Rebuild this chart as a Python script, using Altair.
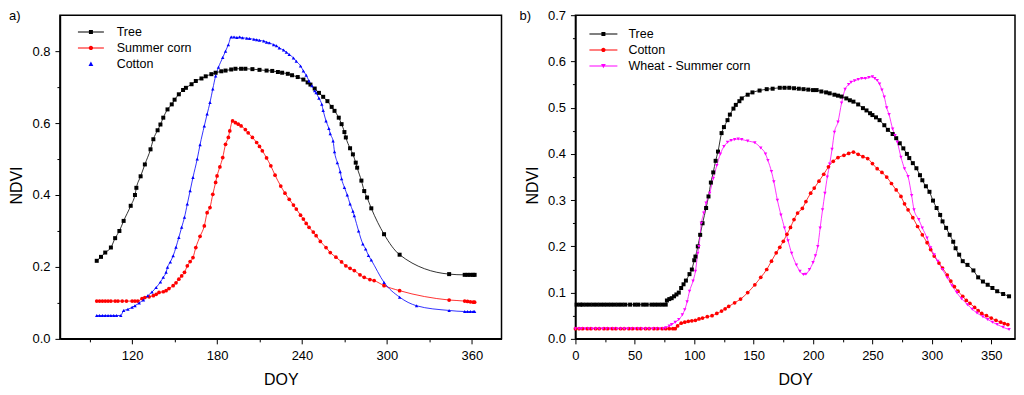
import altair as alt
import pandas as pd

FONT = "Liberation Sans"
panel_labels = ["a)", "b)"]

# ---------------- Panel a ----------------
a_series = ["Tree", "Summer corn", "Cotton"]
a_colors = ["#000000", "#ff0000", "#0000ff"]

a_tree_doy = [95, 98, 101, 105, 108, 111, 114, 119, 122, 123, 126, 129, 133, 135, 138, 140, 142, 145, 148,
              150, 153, 156, 158, 162, 165, 169, 172, 176, 179, 183, 186, 190, 193, 197, 200, 205, 210, 215,
              219, 223, 226, 230, 233, 237, 241, 244, 246, 249, 252, 255, 258, 261, 263, 266, 268, 270, 271,
              274, 276, 278, 279, 282, 284, 286, 289, 298, 309, 344, 355, 357, 359, 361, 362]
a_tree_ndvi = [.217, .228, .240, .254, .280, .300, .328, .370, .400, .420, .452, .485, .527, .555, .580, .596,
               .615, .638, .652, .665, .680, .692, .698, .708, .717, .724, .730, .736, .740, .744, .746, .749,
               .751, .751, .751, .750, .748, .746, .745, .742, .740, .737, .733, .728, .721, .713, .707, .696,
               .684, .673, .661, .645, .634, .615, .597, .575, .560, .530, .513, .490, .476, .440, .411, .393,
               .363, .291, .234, .180, .178, .178, .178, .178, .178]

a_corn_doy = [95, 97, 99, 101, 103, 105, 108, 110, 113, 116, 120, 122, 124, 127, 129, 132, 135, 137, 139, 142,
              144, 146, 149, 151, 153, 155, 157, 159, 161, 163, 165, 168, 171, 173, 175, 177, 179, 180, 182,
              184, 186, 188, 189, 191, 193, 195, 197, 200, 202, 205, 208, 210, 212, 215, 218, 221, 225, 228,
              231, 234, 236, 239, 241, 243, 245, 248, 250, 253, 257, 260, 264, 268, 271, 274, 277, 281, 284,
              288, 291, 298, 309, 344, 355, 357, 359, 361, 362]
a_corn_ndvi = [.105, .105, .105, .105, .105, .105, .105, .105, .105, .105, .105, .105, .105, .112, .115, .117,
               .120, .124, .129, .131, .134, .140, .148, .156, .166, .175, .185, .203, .215, .226, .254, .285,
               .314, .351, .365, .402, .435, .453, .478, .504, .541, .560, .578, .606, .601, .597, .592, .582,
               .573, .560, .546, .535, .523, .503, .481, .455, .425, .405, .388, .372, .361, .344, .333, .321,
               .310, .297, .287, .271, .254, .240, .227, .214, .203, .196, .190, .178, .171, .165, .162, .148,
               .134, .108, .105, .104, .103, .102, .102]

a_cotton_doy = [95, 97, 99, 101, 103, 105, 107, 109, 112, 114, 117, 120, 122, 125, 128, 131, 134, 137, 140, 142,
                144, 145, 147, 149, 151, 153, 155, 157, 159, 161, 163, 166, 168, 171, 173, 175, 177, 179, 181,
                184, 186, 188, 190, 192, 194, 196, 198, 201, 203, 206, 208, 210, 213, 215, 217, 220, 222, 224,
                227, 229, 231, 234, 236, 239, 241, 243, 245, 247, 249, 250, 252, 254, 255, 257, 259, 260, 262,
                263, 265, 267, 268, 270, 272, 274, 276, 277, 280, 283, 285, 287, 289, 298, 309, 321, 344, 355,
                357, 359, 361, 362]
a_cotton_ndvi = [.065, .065, .065, .065, .065, .065, .065, .065, .065, .079, .082, .088, .092, .100, .108, .120,
                 .130, .143, .158, .171, .185, .199, .214, .231, .255, .282, .310, .338, .375, .412, .449, .500,
                 .540, .592, .625, .657, .695, .731, .755, .782, .800, .818, .839, .839, .838, .839, .837, .836,
                 .835, .833, .832, .830, .828, .825, .823, .818, .815, .809, .803, .797, .791, .781, .772, .759,
                 .745, .733, .717, .704, .690, .684, .669, .652, .635, .606, .585, .570, .550, .520, .490, .465,
                 .445, .421, .400, .375, .355, .342, .300, .264, .250, .232, .219, .157, .116, .092, .079, .076,
                 .076, .076, .076, .076]

# ---------------- Panel b ----------------
b_series = ["Tree", "Cotton", "Wheat - Summer corn"]
b_colors = ["#000000", "#ff0000", "#ff00ff"]

b_tree_doy = [1, 4, 6, 9, 12, 15, 18, 21, 24, 27, 30, 33, 36, 39, 42, 46, 50, 53, 57, 60, 64, 67, 70, 73, 76,
              77, 79, 81, 83, 85, 87, 89, 91, 93, 96, 98, 100, 101, 103, 105, 107, 110, 112, 114, 116, 118, 120,
              123, 125, 128, 130, 133, 135, 138, 140, 145, 149, 155, 161, 166, 172, 176, 180, 184, 188, 192, 196,
              200, 203, 207, 211, 214, 218, 221, 224, 228, 231, 234, 238, 242, 245, 248, 250, 253, 256, 260, 263,
              267, 270, 273, 276, 279, 281, 284, 287, 290, 292, 295, 298, 301, 304, 307, 309, 312, 315, 318, 320,
              323, 326, 330, 335, 339, 343, 347, 351, 355, 360, 365]
b_tree_ndvi = [.074] * 25 + [
    .083, .086, .088, .092, .096, .100, .110, .118, .126, .140, .150, .170, .178, .200, .225, .250, .283, .308,
    .338, .360, .385, .405, .445, .458, .473, .485, .498, .506, .514, .520, .528, .533, .537, .540, .541, .543,
    .543, .543, .542, .541, .540, .539, .538, .538, .535, .533, .531, .528, .526, .524, .520, .516, .513, .507,
    .499, .494, .488, .484, .479, .473, .462, .452, .443, .434, .423, .412, .400, .391, .380, .369, .354, .343,
    .330, .318, .299, .283, .268, .254, .240, .225, .210, .196, .182, .168, .160, .148, .133, .124, .117, .110,
    .103, .097, .092]

b_cotton_doy = [0, 3, 6, 10, 13, 17, 20, 24, 27, 31, 34, 38, 41, 45, 48, 52, 55, 59, 62, 66, 69, 73, 76, 79, 82,
                84, 86, 89, 92, 95, 98, 101, 104, 107, 111, 115, 119, 123, 126, 129, 134, 139, 145, 151, 156, 161,
                165, 169, 172, 175, 178, 181, 184, 187, 191, 194, 198, 201, 205, 209, 213, 217, 221, 226, 230, 234,
                238, 242, 246, 250, 254, 258, 262, 266, 270, 274, 277, 280, 284, 288, 292, 296, 299, 302, 306, 309,
                313, 316, 319, 322, 326, 329, 332, 336, 339, 342, 346, 350, 354, 358, 361, 364]
b_cotton_ndvi = [.022] * 26 + [
    .028, .034, .036, .038, .039, .040, .043, .045, .048, .050, .055, .060, .065, .070, .078, .086, .100, .117,
    .133, .150, .168, .186, .198, .211, .226, .241, .258, .272, .282, .297, .315, .326, .341, .356, .372, .384,
    .392, .397, .401, .404, .399, .394, .390, .379, .368, .360, .350, .336, .322, .308, .292, .279, .262, .243,
    .225, .208, .193, .179, .164, .153, .138, .125, .113, .103, .092, .083, .077, .068, .061, .055, .050, .045,
    .040, .036, .033, .031]

b_wheat_doy = [0, 3, 5, 8, 11, 14, 17, 20, 23, 26, 29, 32, 35, 38, 41, 44, 47, 50, 53, 56, 59, 62, 65, 68, 71, 74,
               76, 79, 81, 84, 87, 90, 92, 94, 96, 99, 101, 103, 104, 106, 108, 110, 113, 116, 119, 122, 125, 128,
               131, 134, 137, 140, 145, 151, 156, 160, 162, 165, 167, 170, 173, 176, 179, 182, 186, 189, 192, 194,
               197, 200, 202, 204, 206, 208, 210, 212, 214, 216, 218, 221, 224, 227, 230, 232, 235, 238, 241, 244,
               247, 250, 252, 254, 256, 258, 260, 262, 264, 267, 269, 271, 274, 277, 280, 283, 285, 289, 292, 296,
               299, 302, 305, 309, 313, 317, 321, 325, 330, 334, 338, 343, 347, 351, 355, 360, 365]
b_wheat_ndvi = [.022] * 26 + [
    .024, .028, .031, .036, .042, .052, .063, .080, .103, .125, .146, .185, .200, .250, .272, .294, .315, .347,
    .375, .400, .416, .425, .429, .431, .432, .431, .428, .424, .413, .400, .386, .362, .340, .300, .268, .240,
    .212, .185, .160, .146, .139, .140, .150, .165, .180, .200, .240, .279, .315, .350, .378, .410, .447, .469,
    .510, .540, .550, .555, .558, .561, .563, .563, .565, .567, .563, .559, .551, .538, .523, .500, .485, .454,
    .440, .425, .393, .368, .351, .310, .279, .258, .240, .218, .197, .182, .168, .150, .132, .115, .100, .087,
    .074, .064, .056, .048, .042, .036, .031, .025, .020]


def long_df(names, doys, vals):
    rows = []
    for n, d, v in zip(names, doys, vals):
        rows += [{"series": n, "doy": a, "ndvi": b} for a, b in zip(d, v)]
    return pd.DataFrame(rows)


a_df = long_df(a_series, [a_tree_doy, a_corn_doy, a_cotton_doy], [a_tree_ndvi, a_corn_ndvi, a_cotton_ndvi])
b_df = long_df(b_series, [b_tree_doy, b_cotton_doy, b_wheat_doy], [b_tree_ndvi, b_cotton_ndvi, b_wheat_ndvi])


def line_sym(half, marker):
    return f"M{-half},-0.25H{half}V0.25H{-half}Z " + marker


SQ = "M-1,-1H1V1H-1Z"
CIRC = "M-1.1,0A1.1,1.1,0,1,1,1.1,0A1.1,1.1,0,1,1,-1.1,0Z"
TRI_UP = "M0,-1.2L1.2,1L-1.2,1Z"
TRI_DN = "M-1.2,-1L1.2,-1L0,1.2Z"


def panel(df, names, colors, shapes, sizes, legend_shapes, label, label_x,
          xdom, ydom, xmaj, xmin, ymaj, ymin, lx, ly, soff, loff, w, h):
    base = alt.Chart(df)
    xs = alt.Scale(domain=xdom, nice=False, zero=False)
    ys = alt.Scale(domain=ydom, nice=False, zero=False)
    cs = alt.Scale(domain=names, range=colors)
    ax_common = dict(grid=False, labelFontSize=13, titleFontSize=16, labelFont=FONT, titleFont=FONT,
                     labelColor="black", titleColor="black", titleFontWeight="normal",
                     domainColor="black", domainWidth=1.5, tickColor="black", tickWidth=1)
    lines = base.mark_line(strokeWidth=0.8, interpolate="monotone").encode(
        x=alt.X("doy:Q", scale=xs, axis=alt.Axis(values=xmaj, orient="bottom", title="DOY", tickSize=5,
                                                  labelPadding=6, titlePadding=9, labelFlush=False, **ax_common)),
        y=alt.Y("ndvi:Q", scale=ys, axis=alt.Axis(values=ymaj, orient="left", title="NDVI", format=".1f",
                                                   tickSize=5, labelPadding=5, titlePadding=7, labelFlush=False,
                                                   titleY=h / 2 + 8, **ax_common)),
        color=alt.Color("series:N", scale=cs, legend=None),
        detail="series:N",
    )
    points = base.mark_point(filled=True, opacity=1).encode(
        x=alt.X("doy:Q", scale=xs, axis=alt.Axis(values=xmin, orient="bottom", title=None, labels=False,
                                                  domain=False, tickSize=3, grid=False, tickColor="black")),
        y=alt.Y("ndvi:Q", scale=ys, axis=alt.Axis(values=ymin, orient="left", title=None, labels=False,
                                                   domain=False, tickSize=3, grid=False, tickColor="black")),
        color=alt.Color("series:N", scale=cs, legend=None),
        shape=alt.Shape("series:N", scale=alt.Scale(domain=names, range=shapes), legend=None),
        size=alt.Size("series:N", scale=alt.Scale(domain=names, range=sizes), legend=None),
    )
    leg = alt.Legend(orient="none", legendX=lx, legendY=ly, title=None, symbolSize=16, symbolStrokeWidth=0,
                     symbolOffset=soff, labelOffset=loff, labelFontSize=12.5, labelFont=FONT,
                     labelColor="black", rowPadding=3, padding=0, labelLimit=400, symbolOpacity=1)
    legend_layer = base.mark_point(filled=True, size=16, opacity=1).encode(
        color=alt.Color("series:N", scale=cs, legend=leg),
        shape=alt.Shape("series:N", scale=alt.Scale(domain=names, range=legend_shapes), legend=leg),
    ).transform_filter("false")
    lab = alt.Chart(pd.DataFrame({"t": [label]})).mark_text(
        align="left", baseline="middle", fontSize=13, font=FONT, color="black"
    ).encode(text="t:N", x=alt.value(label_x), y=alt.value(1))
    return alt.layer(lines, points, legend_layer, lab).resolve_scale(
        color="independent", shape="independent", size="independent"
    ).resolve_axis(x="independent", y="independent").properties(width=w, height=h)


left = panel(a_df, a_series, a_colors, ["square", "circle", "triangle-up"], [16, 12, 18],
             [line_sym(6.5, SQ), line_sym(6.5, CIRC), TRI_UP], panel_labels[0], -51,
             [69, 381], [0, 0.9], [120, 180, 240, 300, 360], [90, 150, 210, 270, 330],
             [0.0, 0.2, 0.4, 0.6, 0.8], [0.1, 0.3, 0.5, 0.7],
             18, 10.5, 6.75, 19.5, 442, 324)

right = panel(b_df, b_series, b_colors, ["square", "circle", "triangle-down"], [16, 12, 22],
              [line_sym(7, SQ), line_sym(7, CIRC), line_sym(7, TRI_DN)], panel_labels[1], -56,
              [0, 370], [0, 0.7], [0, 50, 100, 150, 200, 250, 300, 350],
              [25, 75, 125, 175, 225, 275, 325],
              [0.0, 0.1, 0.2, 0.3, 0.4, 0.5, 0.6, 0.7],
              [0.05, 0.15, 0.25, 0.35, 0.45, 0.55, 0.65],
              14, 12.5, 7.75, 18.8, 440, 324)

chart = alt.hconcat(left, right, spacing=16).properties(
    padding={"left": 0, "top": 0, "right": 0, "bottom": 0}
).configure_view(stroke="black", strokeWidth=1.5)

chart.save("out.html", embed_options={"renderer": "svg", "actions": False})
